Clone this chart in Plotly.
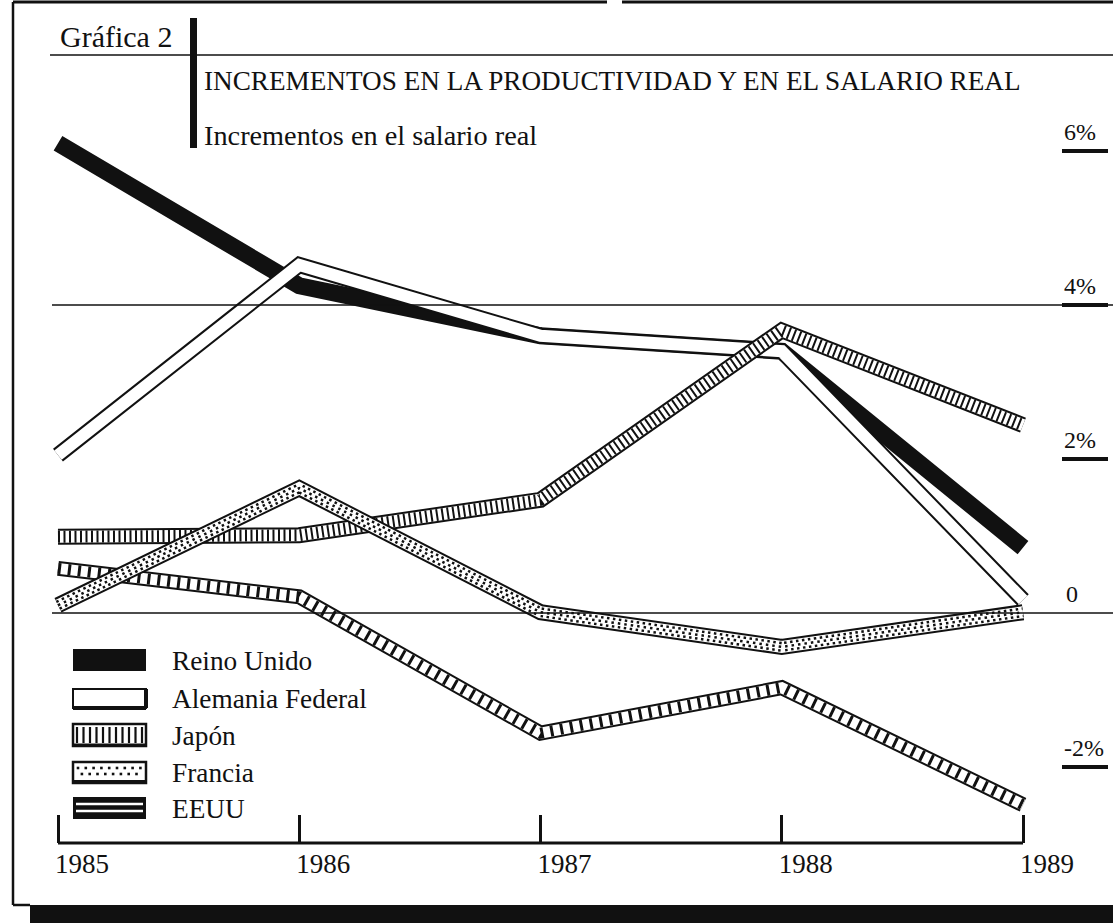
import plotly.graph_objects as go

# ---------------- data ----------------
years = [1985, 1986, 1987, 1988, 1989]
reino_unido = [6.1, 4.25, 3.6, 3.4, 0.85]
alemania = [2.05, 4.52, 3.6, 3.4, 0.17]
japon = [0.99, 1.01, 1.47, 3.67, 2.44]
francia = [0.1, 1.62, 0.01, -0.44, 0.01]
eeuu = [0.58, 0.21, -1.56, -0.97, -2.49]
series_names = ["Reino Unido", "Alemania Federal", "Japón", "Francia", "EEUU"]
y_tick_vals = [6, 4, 2, 0, -2]
y_tick_text = ["6%", "4%", "2%", "0", "-2%"]
grid_vals = [4, 0]
underline_vals = [6, 4, 2, -2]
chart_label = "Gráfica 2"
title_text = "INCREMENTOS EN LA PRODUCTIVIDAD Y EN EL SALARIO REAL"
subtitle_text = "Incrementos en el salario real"

# ---------------- layout geometry ----------------
W, H = 1113, 923
MB = 80                      # bottom margin (axis line at 843px)
PH = H - MB
FONT = "Liberation Serif"
INK = "#111111"

# x scale: 1985 tick at 58px, 1989 tick at 1023px
ppy = (1023 - 58) / 4
x_range = [years[0] - 58 / ppy, years[-1] + (W - 1023) / ppy]
# y scale: 0 at 613px, 77px per percentage point
ppv = 77
y_range = [-(PH - 613) / ppv, 613 / ppv]


def X(px):
    return px / W


def Y(py):
    return (PH - py) / PH


fig = go.Figure()


def ribbon(values, layers):
    for width, color, dash in layers:
        fig.add_trace(go.Scatter(
            x=years, y=values, mode="lines",
            line=dict(color=color, width=width, dash=dash or "solid"),
            hoverinfo="skip", showlegend=False))


ribbon(reino_unido, [(17, INK, None)])
ribbon(alemania, [(16, INK, None), (12, "white", None)])
ribbon(eeuu, [(15, INK, None), (11, "white", None), (11, INK, "3px,7px")])
ribbon(japon, [(16, INK, None), (12, "white", None), (12, INK, "2px,3.5px")])
ribbon(francia, [(16, INK, None), (12, "white", None), (10, INK, "2.5px,3.5px"),
                 (5, "white", None), (2.5, INK, "2.5px,4px")])

shapes = []


def line(x0, y0, x1, y1, w=2, xref="paper", yref="paper", color=INK):
    shapes.append(dict(type="line", xref=xref, yref=yref, x0=x0, y0=y0,
                       x1=x1, y1=y1, line=dict(color=color, width=w)))


def rect(x0, y0, x1, y1, fill=INK, lw=0, xref="paper", yref="paper"):
    shapes.append(dict(type="rect", xref=xref, yref=yref, x0=x0, y0=y0,
                       x1=x1, y1=y1, fillcolor=fill,
                       line=dict(color=INK, width=lw)))


# frame
line(X(13), Y(2), X(607), Y(2), 3)
line(X(622), Y(2), X(W), Y(2), 3)
line(X(13), Y(2), X(13), Y(905), 2.5)
line(X(13), Y(905), X(30), Y(905), 2.5)
rect(X(30), Y(905), X(W), Y(H))
# header rules
line(X(50), Y(55), X(W), Y(55), 1.5)
rect(X(190), Y(18), X(197), Y(148))
# gridlines and value underlines
for v in grid_vals:
    line(X(52), v, X(W), v, 1.5, yref="y")
for v in underline_vals:
    line(X(1062), v, X(1108), v, 4, yref="y")
# axis line
line(years[0], 0, years[-1], 0, 3, xref="x")

# legend swatches
rows = [660, 698, 735, 772, 808]
sx0, sx1, sh = 73, 146, 11
# Reino Unido
rect(X(sx0), Y(rows[0] - sh), X(sx1), Y(rows[0] + sh))
# Alemania Federal
rect(X(sx0), Y(rows[1] - sh + 2), X(sx1), Y(rows[1] + sh - 1), fill="white", lw=2)
line(X(sx0), Y(rows[1] + sh - 1), X(sx1), Y(rows[1] + sh - 1), 4)
line(X(sx1), Y(rows[1] - sh + 2), X(sx1), Y(rows[1] + sh - 1), 4)
# Japón
rect(X(sx0), Y(rows[2] - sh), X(sx1), Y(rows[2] + sh), fill="white", lw=2.5)
line(X(sx0), Y(rows[2] + sh - 1), X(sx1), Y(rows[2] + sh - 1), 3)
for k in range(11):
    xx = sx0 + 4 + k * 6.5
    line(X(xx), Y(rows[2] - sh + 3), X(xx), Y(rows[2] + sh - 3), 2.2)
# Francia
rect(X(sx0), Y(rows[3] - sh + 1), X(sx1), Y(rows[3] + sh), fill="white", lw=2.5)
line(X(sx0), Y(rows[3] + sh - 1), X(sx1), Y(rows[3] + sh - 1), 4)
for k in range(17):
    xx = sx0 + 5 + k * 3.9
    yy = rows[3] + (-4 if k % 2 == 0 else 2)
    rect(X(xx - 1.3), Y(yy - 1.3), X(xx + 1.3), Y(yy + 1.3))
# EEUU
rect(X(sx0), Y(rows[4] - sh), X(sx1), Y(rows[4] + sh))
for off in (-4, 3):
    line(X(sx0 + 3), Y(rows[4] + off), X(sx1 - 3), Y(rows[4] + off), 2.5,
         color="white")

annotations = []


def text(s, px, py, size, xanchor="left", yref="paper", yshift=0):
    annotations.append(dict(text=s, x=X(px), y=py if yref == "y" else Y(py),
                            xref="paper", yref=yref, xanchor=xanchor,
                            yanchor="middle", showarrow=False, yshift=yshift,
                            font=dict(family=FONT, size=size, color=INK)))


text(chart_label, 58, 37, 30)
text(title_text, 202, 81, 27.2)
text(subtitle_text, 202, 135, 28.3)
for name, r in zip(series_names, rows):
    text(name, 170, r + 1, 27.3)
for v, t in zip(y_tick_vals, y_tick_text):
    text(t, 1062 if t != "0" else 1064, v, 24, yref="y", yshift=19)

fig.update_layout(
    width=W, height=H,
    margin=dict(l=0, r=0, t=0, b=MB, pad=0),
    paper_bgcolor="white", plot_bgcolor="white",
    showlegend=False,
    shapes=shapes, annotations=annotations,
    xaxis=dict(range=x_range, tickvals=years, ticktext=[str(y) for y in years],
               ticks="inside", ticklen=28, tickwidth=3, tickcolor=INK,
               showgrid=False, zeroline=False, showline=False,
               tickfont=dict(family=FONT, size=27, color=INK),
               ticklabelshift=24, ticklabelstandoff=2, fixedrange=True),
    yaxis=dict(range=y_range, visible=False, showgrid=False, zeroline=False,
               fixedrange=True),
)

fig.write_html("out.html", config={"displayModeBar": False},
               post_script="document.body.style.margin='0';")
